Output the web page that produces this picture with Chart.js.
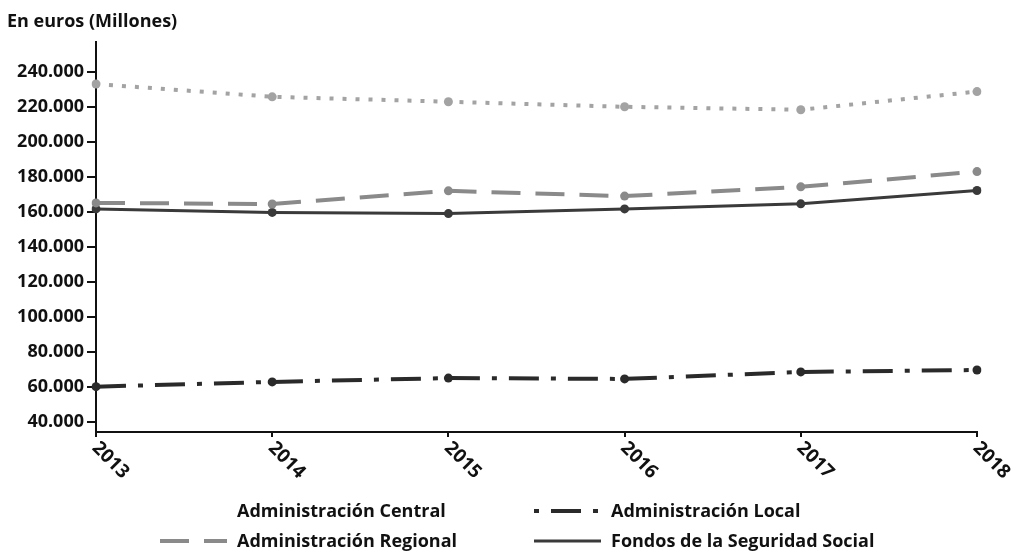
<!DOCTYPE html>
<html>
<head>
<meta charset="utf-8">
<script src="https://cdn.jsdelivr.net/npm/chart.js@4.4.1/dist/chart.umd.min.js"></script>
<style>
  html, body { margin: 0; padding: 0; background: #fff; }
  #wrap { width: 1013px; height: 555px; position: relative; }
</style>
</head>
<body>
<div id="wrap"><canvas id="c" width="1013" height="555"></canvas></div>
<script>
// Gasto por subsector de las Administraciones Públicas, en millones de euros
const years = ['2013', '2014', '2015', '2016', '2017', '2018'];
const central = [233000, 225700, 222900, 220000, 218300, 228700];
const regional = [165100, 164500, 172000, 169000, 174300, 183000];
const local = [60200, 62900, 65100, 64600, 68600, 69700];
const seguridadSocial = [161700, 159700, 159000, 161700, 164600, 172200];
const yTicks = [40000, 60000, 80000, 100000, 120000, 140000, 160000, 180000, 200000, 220000, 240000];
const seriesNames = ['Administración Central', 'Administración Regional', 'Administración Local', 'Fondos de la Seguridad Social'];
const unitTitle = 'En euros (Millones)';

const FONT = '"Open Sans", "DejaVu Sans", sans-serif';
const INK = '#111111';

function fmtEs(v) {
  return String(Math.round(v)).replace(/\B(?=(\d{3})+(?!\d))/g, '.');
}

function series(label, data, color, width, dash) {
  return {
    label, data,
    borderColor: color, backgroundColor: color,
    pointBackgroundColor: color, pointBorderColor: color,
    borderWidth: width, borderDash: dash,
    pointRadius: 4.5, pointHoverRadius: 4.5, pointBorderWidth: 0,
    tension: 0, fill: false
  };
}

// legend grid: [dataset index, column, row]
const legendLayout = [[0, 0, 0], [2, 1, 0], [1, 0, 1], [3, 1, 1]];
const legendTextX = [237, 611];
const legendBaseY = [517, 547];
const legendDashOffset = [0, 0, 42, 0];

const decor = {
  id: 'decor',
  afterDraw(chart) {
    const ctx = chart.ctx;
    const xs = chart.scales.x;
    const area = chart.chartArea;
    ctx.save();
    ctx.fillStyle = INK;

    // unit title
    ctx.font = `bold 18px ${FONT}`;
    ctx.textAlign = 'left';
    ctx.textBaseline = 'alphabetic';
    ctx.fillText(unitTitle, 7, 27);

    // slanted year labels
    ctx.font = `bold 19px ${FONT}`;
    years.forEach((y, i) => {
      const px = xs.getPixelForValue(i);
      ctx.save();
      ctx.translate(px - 1, area.bottom + 13);
      ctx.rotate(Math.PI / 4);
      ctx.textAlign = 'left';
      ctx.textBaseline = 'middle';
      ctx.fillText(y, 0, 0);
      ctx.restore();
    });

    // two-column legend
    ctx.font = `bold 18px ${FONT}`;
    legendLayout.forEach(([di, col, row]) => {
      const ds = chart.data.datasets[di];
      const tx = legendTextX[col];
      const by = legendBaseY[row];
      const sy = by - 6;
      if (di !== 0) {
        ctx.save();
        ctx.strokeStyle = ds.borderColor;
        ctx.lineWidth = ds.borderWidth;
        ctx.setLineDash(ds.borderDash || []);
        ctx.lineDashOffset = legendDashOffset[di];
        ctx.beginPath();
        ctx.moveTo(tx - 77, sy);
        ctx.lineTo(tx - 10, sy);
        ctx.stroke();
        ctx.restore();
      }
      ctx.fillStyle = INK;
      ctx.textAlign = 'left';
      ctx.textBaseline = 'alphabetic';
      ctx.fillText(ds.label, tx, by);
    });
    ctx.restore();
  }
};

new Chart(document.getElementById('c'), {
  type: 'line',
  data: {
    labels: years,
    datasets: [
      series(seriesNames[0], central, '#a3a3a3', 4, [4, 9]),
      series(seriesNames[1], regional, '#8a8a8a', 4, [29, 15]),
      series(seriesNames[2], local, '#2a2a2a', 4, [30, 12, 5, 12]),
      series(seriesNames[3], seguridadSocial, '#3a3a3a', 3, [])
    ]
  },
  options: {
    responsive: false,
    animation: false,
    devicePixelRatio: 1,
    layout: { padding: { left: 0, right: 36, top: 42, bottom: 0 } },
    plugins: { legend: { display: false }, title: { display: false }, tooltip: { enabled: false } },
    scales: {
      x: {
        type: 'category',
        offset: false,
        afterFit(scale) { scale.height = 123; },
        border: { display: true, color: '#111', width: 2 },
        grid: { display: true, drawOnChartArea: false, drawTicks: true, tickLength: 5, color: '#111', lineWidth: 2 },
        ticks: { display: false }
      },
      y: {
        min: 34300,
        max: 257000,
        afterFit(scale) { scale.width = 96; },
        afterBuildTicks(scale) { scale.ticks = yTicks.map(v => ({ value: v })); },
        border: { display: true, color: '#111', width: 2 },
        grid: { display: true, drawOnChartArea: false, drawTicks: true, tickLength: 9, color: '#111', lineWidth: 2 },
        ticks: {
          padding: 3,
          color: INK,
          font: { family: FONT, size: 18, weight: 'bold' },
          callback: v => fmtEs(v)
        }
      }
    }
  },
  plugins: [decor]
});
</script>
</body>
</html>
